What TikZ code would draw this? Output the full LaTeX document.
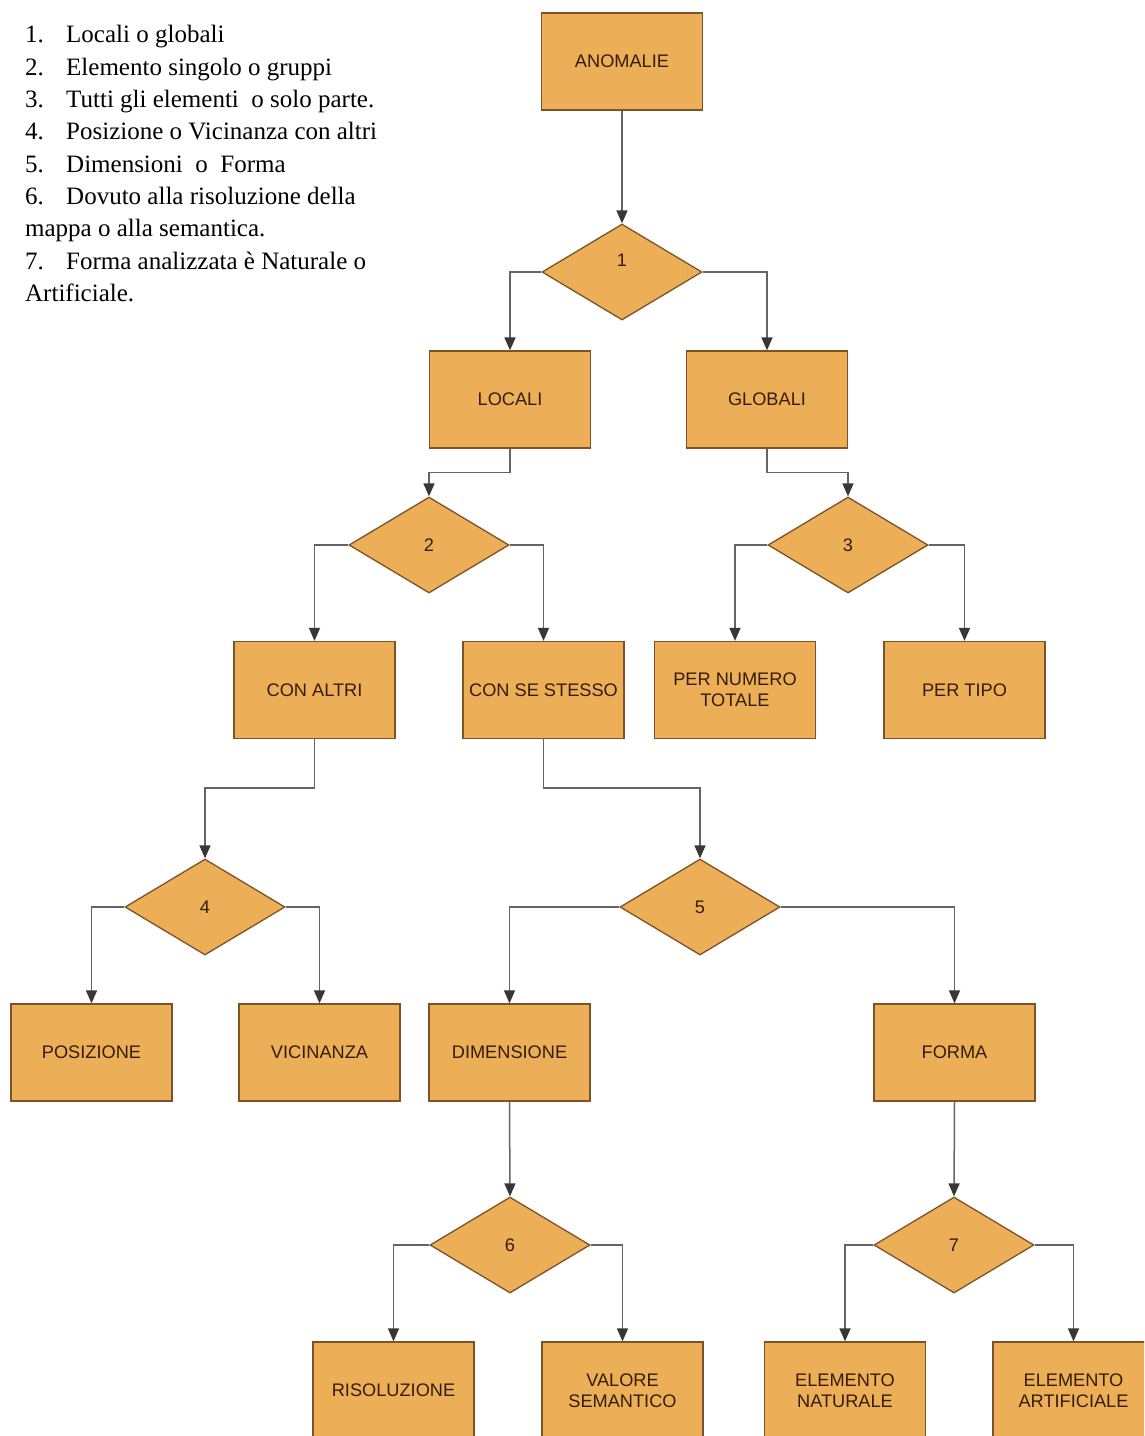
\documentclass[tikz,border=0pt]{standalone}
\usepackage{fontspec}
\setmainfont{Liberation Serif}
\newfontfamily\boxfont{Liberation Sans}
\usetikzlibrary{shapes.geometric,arrows.meta}
\definecolor{boxfill}{RGB}{236,174,86}
\definecolor{boxedge}{RGB}{125,82,40}
\definecolor{boxtext}{RGB}{50,30,10}
\definecolor{linegray}{RGB}{100,100,100}
\definecolor{arrowdark}{RGB}{55,55,55}
\begin{document}
\begin{tikzpicture}[x=1pt,y=-1pt,
  box/.style={rectangle, draw=boxedge, fill=boxfill, line width=1.3pt,
    minimum width=161pt, minimum height=97pt, inner sep=0pt, align=center,
    font=\boxfont\fontsize{18.2}{21}\selectfont, text=boxtext},
  dec/.style={diamond, draw=boxedge, fill=boxfill, line width=1.3pt,
    minimum width=160pt, minimum height=96pt, inner sep=0pt,
    font=\boxfont\fontsize{18.2}{21}\selectfont, text=boxtext},
  dlab/.style={font=\boxfont\fontsize{18.2}{21}\selectfont, text=boxtext, inner sep=0pt},
  conn/.style={draw=linegray, line width=1.5pt,
    -{Triangle[width=11pt,length=13pt,color=arrowdark]}},
  leg/.style={anchor=base west, inner sep=0pt, font=\fontsize{25}{28}\selectfont, text=black}]
\useasboundingbox (0,0) rectangle (1144,1436);
\clip (0,0) rectangle (1144,1436);
\fill[white] (0,0) rectangle (1144,1436);

% legend
\node[leg] (n1) at (25,42) {1.};  \node[leg] (t1) at (66,42) {Locali o globali};
\node[leg] (n2) at (25,75) {2.};  \node[leg] (t2) at (66,75) {Elemento singolo o gruppi};
\node[leg] (n3) at (25,107) {3.}; \node[leg] (t3) at (66,107) {Tutti gli elementi\ \ o solo parte.};
\node[leg] (n4) at (25,139) {4.}; \node[leg] (t4) at (66,139) {Posizione o Vicinanza con altri};
\node[leg] (n5) at (25,172) {5.}; \node[leg] (t5) at (66,172) {Dimensioni\ \ o\ \ Forma};
\node[leg] (n6) at (25,204) {6.}; \node[leg] (t6) at (66,204) {Dovuto alla risoluzione della};
\node[leg] (t6b) at (25,236) {mappa o alla semantica.};
\node[leg] (n7) at (25,269) {7.}; \node[leg] (t7) at (66,269) {Forma analizzata è Naturale o};
\node[leg] (t7b) at (25,301) {Artificiale.};

% nodes
\node[box] (anom) at (622,61.5) {ANOMALIE};
\node[dec, label={[dlab, yshift=12pt]center:1}] (d1) at (622,272) {};
\node[box] (loc) at (510,399.5) {LOCALI};
\node[box] (glob) at (767,399.5) {GLOBALI};
\node[dec] (d2) at (429,545) {2};
\node[dec] (d3) at (848,545) {3};
\node[box] (conaltri) at (314.5,690) {CON ALTRI};
\node[box] (conse) at (543.5,690) {CON SE STESSO};
\node[box] (pernum) at (735,690) {PER NUMERO\\TOTALE};
\node[box] (pertipo) at (964.5,690) {PER TIPO};
\node[dec] (d4) at (205,907) {4};
\node[dec] (d5) at (700,907) {5};
\node[box] (pos) at (91.5,1052.5) {POSIZIONE};
\node[box] (vic) at (319.5,1052.5) {VICINANZA};
\node[box] (dim) at (509.5,1052.5) {DIMENSIONE};
\node[box] (forma) at (954.5,1052.5) {FORMA};
\node[dec] (d6) at (510,1245) {6};
\node[dec] (d7) at (954,1245) {7};
\node[box] (ris) at (393.5,1390.5) {RISOLUZIONE};
\node[box] (val) at (622.5,1390.5) {VALORE\\SEMANTICO};
\node[box] (nat) at (845,1390.5) {ELEMENTO\\NATURALE};
\node[box] (art) at (1073.5,1390.5) {ELEMENTO\\ARTIFICIALE};

% connectors
\draw[conn] (anom.south) -- (d1.north);
\draw[conn] (d1.west) -| (loc.north);
\draw[conn] (d1.east) -| (glob.north);
\draw[conn] (loc.south) -- ++(0,24) -| (d2.north);
\draw[conn] (glob.south) -- ++(0,24) -| (d3.north);
\draw[conn] (d2.west) -| (conaltri.north);
\draw[conn] (d2.east) -| (conse.north);
\draw[conn] (d3.west) -| (pernum.north);
\draw[conn] (d3.east) -| (pertipo.north);
\draw[conn] (conaltri.south) -- ++(0,49) -| (d4.north);
\draw[conn] (conse.south) -- ++(0,49) -| (d5.north);
\draw[conn] (d4.west) -| (pos.north);
\draw[conn] (d4.east) -| (vic.north);
\draw[conn] (d5.west) -| (dim.north);
\draw[conn] (d5.east) -| (forma.north);
\draw[conn] (dim.south) -- (d6.north);
\draw[conn] (forma.south) -- (d7.north);
\draw[conn] (d6.west) -| (ris.north);
\draw[conn] (d6.east) -| (val.north);
\draw[conn] (d7.west) -| (nat.north);
\draw[conn] (d7.east) -| (art.north);
\end{tikzpicture}
\end{document}
